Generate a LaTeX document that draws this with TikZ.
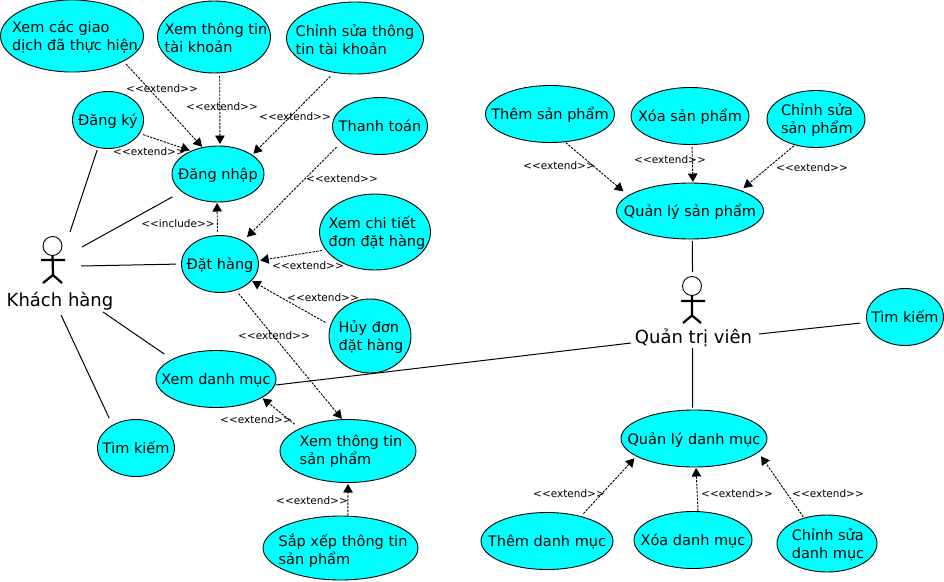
\documentclass[tikz,border=0pt]{standalone}
\usepackage{fontspec}
\setmainfont{DejaVu Sans}
\usetikzlibrary{shapes.geometric,arrows.meta}
\definecolor{usecase}{RGB}{0,255,255}
\newcommand{\uct}[2][0pt]{\ucty{#1}{0pt}{#2}}
\newcommand{\ucty}[3]{\makebox[0pt]{\hspace{#1}\smash{\raisebox{\dimexpr-.38em-#2\relax}{\begin{tabular}[c]{@{}l@{}}#3\end{tabular}}}}}
\tikzset{
  x=1pt,y=-1pt,
  uc/.style={ellipse,draw=black,fill=usecase,line width=.9pt,inner sep=0pt,outer sep=0pt,
    font=\fontsize{14.5}{18}\selectfont},
  rel/.style={font=\fontsize{10.5}{12}\selectfont,inner sep=0pt},
  actorname/.style={font=\fontsize{18}{22}\selectfont,inner sep=0pt},
  assoc/.style={draw=black,line width=1pt},
  extarrow/.style={draw=black,line width=.9pt,dash pattern=on 2.4pt off 1.2pt,-{Triangle[length=8.5pt,width=9.5pt]}},
  actorline/.style={draw=black,line width=2.2pt},
  actorhead/.style={circle,draw=black,fill=white,line width=.9pt,inner sep=0pt,minimum size=19pt,outer sep=0pt},
}
\begin{document}
\begin{tikzpicture}
\useasboundingbox (0,0) rectangle (944,581);
% Use cases: customer side
\node[uc,minimum width=143pt,minimum height=72pt] (xemgd) at (72,36) {\uct[6pt]{Xem các giao\\dịch đã thực hiện}};
\node[uc,minimum width=113pt,minimum height=72pt] (xemtk) at (214,37) {\ucty{4pt}{1pt}{Xem thông tin\\tài khoản}};
\node[uc,minimum width=137pt,minimum height=72pt] (chinhtk) at (355,38) {\ucty{0pt}{1.5pt}{Chỉnh sửa thông\\tin tài khoản}};
\node[uc,minimum width=71pt,minimum height=57pt] (dangky) at (108,120) {\uct{Đăng ký}};
\node[uc,minimum width=92pt,minimum height=56pt] (dangnhap) at (218,174) {\uct{Đăng nhập}};
\node[uc,minimum width=95pt,minimum height=57pt] (thanhtoan) at (380,126) {\uct{Thanh toán}};
\node[uc,minimum width=111pt,minimum height=76pt] (xemct) at (375,232) {\ucty{4pt}{-.5pt}{Xem chi tiết\\đơn đặt hàng}};
\node[uc,minimum width=77pt,minimum height=57pt] (dathang) at (220,264) {\uct{Đặt hàng}};
\node[uc,minimum width=82pt,minimum height=74pt] (huy) at (370,336) {\uct[2pt]{Hủy đơn\\đặt hàng}};
\node[uc,minimum width=120pt,minimum height=57pt] (xemdm) at (216,379) {\uct{Xem danh mục}};
\node[uc,minimum width=77pt,minimum height=57pt] (timkh) at (136,448) {\uct{Tìm kiếm}};
\node[uc,minimum width=136pt,minimum height=63pt] (xemsp) at (348,451) {\ucty{6pt}{-1pt}{Xem thông tin\\sản phẩm}};
\node[uc,minimum width=155pt,minimum height=64pt] (sapxep) at (340.5,548) {\ucty{5pt}{2pt}{Sắp xếp thông tin\\sản phẩm}};
% Use cases: admin side
\node[uc,minimum width=129pt,minimum height=57pt] (themsp) at (550,114) {\uct{Thêm sản phẩm}};
\node[uc,minimum width=118pt,minimum height=57pt] (xoasp) at (690,116) {\uct{Xóa sản phẩm}};
\node[uc,minimum width=98pt,minimum height=57pt] (chinhsp) at (816,119) {\uct[2pt]{Chỉnh sửa\\sản phẩm}};
\node[uc,minimum width=147pt,minimum height=56pt] (qlsp) at (690,211) {\uct{Quản lý sản phẩm}};
\node[uc,minimum width=77pt,minimum height=57pt] (timqt) at (905,317) {\uct{Tìm kiếm}};
\node[uc,minimum width=146pt,minimum height=57pt] (qldm) at (694,438.5) {\uct{Quản lý danh mục}};
\node[uc,minimum width=132pt,minimum height=57pt] (themdm) at (547,541) {\uct{Thêm danh mục}};
\node[uc,minimum width=118pt,minimum height=57pt] (xoadm) at (693,540) {\uct{Xóa danh mục}};
\node[uc,minimum width=100pt,minimum height=57pt] (chinhdm) at (827,543.5) {\uct[2pt]{Chỉnh sửa\\danh mục}};
% Actors
\node[actorhead] (headkh) at (52.5,246) {};
\node[actorname] (khachhang) at (60,301) {Khách hàng};
\node[actorhead] (headqt) at (692,286) {};
\node[actorname] (quantri) at (693.5,338) {Quản trị viên};
\coordinate (kh-hip) at (53,275);
\coordinate (kh-la) at (41,260);
\coordinate (kh-ra) at (65,260);
\coordinate (kh-ll) at (43,283);
\coordinate (kh-rl) at (62,283);
\coordinate (qt-hip) at (692,315.5);
\coordinate (qt-la) at (681,301);
\coordinate (qt-ra) at (705,301);
\coordinate (qt-ll) at (683,323);
\coordinate (qt-rl) at (701,323);
\draw[actorline] (headkh.south) -- (kh-hip) (kh-la) -- (kh-ra) (kh-ll) -- (kh-hip) -- (kh-rl);
\draw[actorline] (headqt.south) -- (qt-hip) (qt-la) -- (qt-ra) (qt-ll) -- (qt-hip) -- (qt-rl);
% Actor ends of the associations
\coordinate (k1) at (70,232);
\coordinate (k2) at (82,247);
\coordinate (k3) at (81,266);
\coordinate (k4) at (103,312);
\coordinate (k5) at (61,315);
\coordinate (q1) at (692.5,272);
\coordinate (q2) at (759,334);
\coordinate (q3) at (631,343);
\coordinate (q4) at (692.5,348);
% Associations
\draw[assoc,shorten <=3pt] (dangky.-110) -- (k1);
\draw[assoc,shorten <=11pt] (dangnhap.-154) -- (k2);
\draw[assoc,shorten <=5.5pt] (dathang.180) -- (k3);
\draw[assoc,shorten <=9.5pt] (xemdm.156.5) -- (k4);
\draw[assoc,shorten <=8pt] (timkh.136) -- (k5);
\draw[assoc,shorten <=2pt] (qlsp.-85) -- (q1);
\draw[assoc,shorten <=7pt] (timqt.-172) -- (q2);
\draw[assoc,shorten <=1pt] (xemdm.-6.7) -- (q3);
\draw[assoc,shorten <=2.5pt] (qldm.93) -- (q4);
% Extend and include
\draw[extarrow,shorten <=4pt,shorten >=1pt] (xemgd.-26) -- (dangnhap.120.7);
\draw[extarrow,shorten <=3pt,shorten >=2pt] (xemtk.-81) -- (dangnhap.86);
\draw[extarrow,shorten <=5.7pt,shorten >=2pt] (chinhtk.-121.6) -- (dangnhap.29.7);
\draw[extarrow,shorten <=4pt,shorten >=2pt] (dangky.-23) -- (dangnhap.139.4);
\draw[extarrow,shorten <=6.6pt,shorten >=5.8pt] (thanhtoan.-157) -- (dathang.45);
\draw[extarrow,shorten <=3.5pt,shorten >=1pt] (dathang.95) -- (dangnhap.-92);
\draw[extarrow,shorten <=4pt,shorten >=2pt] (xemct.-160) -- (dathang.5.7);
\draw[extarrow,shorten <=6pt,shorten >=1pt] (huy.165) -- (dathang.-28);
\draw[extarrow,shorten <=4.6pt,shorten >=1pt] (dathang.-59) -- (xemsp.100.6);
\draw[extarrow,shorten <=7pt,shorten >=1.4pt] (xemsp.155.6) -- (xemdm.-22);
\draw[extarrow,shorten <=.5pt,shorten >=1.5pt] (sapxep.77) -- (xemsp.-90);
\draw[extarrow,shorten <=1.3pt,shorten >=6.7pt] (themsp.-62.6) -- (qlsp.166);
\draw[extarrow,shorten <=2.5pt,shorten >=1pt] (xoasp.-86) -- (qlsp.84);
\draw[extarrow,shorten <=1.6pt,shorten >=4pt] (chinhsp.-129) -- (qlsp.22);
\draw[extarrow,shorten <=4pt,shorten >=3pt] (themdm.36.9) -- (qldm.-163.6);
\draw[extarrow,shorten <=.5pt,shorten >=1pt] (xoadm.80) -- (qldm.-86);
\draw[extarrow,shorten <=1.6pt,shorten >=5pt] (chinhdm.132) -- (qldm.-12.8);
% Relation labels
\node[rel] (la) at (162,89) {<{}<extend>{}>};
\node[rel] (lb) at (222,107) {<{}<extend>{}>};
\node[rel] (lc) at (295,117) {<{}<extend>{}>};
\node[rel] (ld) at (149,152) {<{}<extend>{}>};
\node[rel] (le) at (342,179) {<{}<extend>{}>};
\node[rel] (lf) at (178,223.5) {<{}<include>{}>};
\node[rel] (lg) at (308,266) {<{}<extend>{}>};
\node[rel] (lh) at (323,298) {<{}<extend>{}>};
\node[rel] (li) at (274,336) {<{}<extend>{}>};
\node[rel] (lj) at (256,420) {<{}<extend>{}>};
\node[rel] (lk) at (312,501) {<{}<extend>{}>};
\node[rel] (ll) at (559,166) {<{}<extend>{}>};
\node[rel] (lm) at (670,160) {<{}<extend>{}>};
\node[rel] (ln) at (812,168) {<{}<extend>{}>};
\node[rel] (lo) at (569,494) {<{}<extend>{}>};
\node[rel] (lp) at (737,494) {<{}<extend>{}>};
\node[rel] (lq) at (828,494) {<{}<extend>{}>};
\end{tikzpicture}
\end{document}
